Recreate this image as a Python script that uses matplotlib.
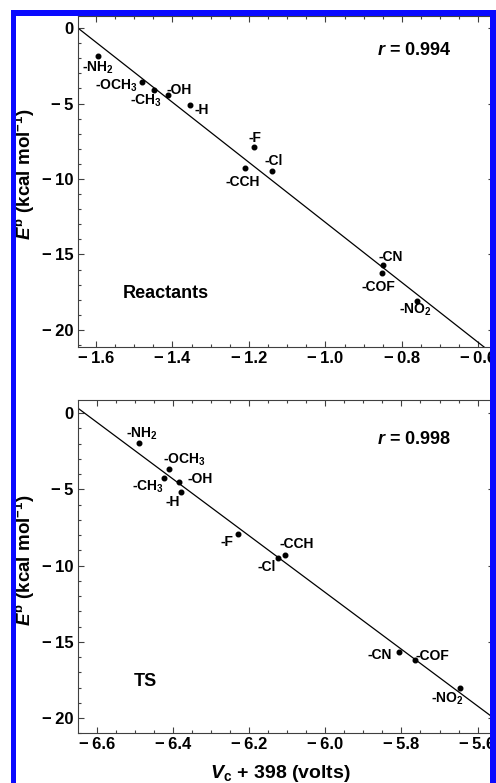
"""Hammett-style correlation: E^b vs core potential V_c, reactants (top) and TS (bottom)."""

import matplotlib
matplotlib.use("Agg")
import matplotlib.pyplot as plt
from matplotlib.patches import Rectangle
from matplotlib.ticker import MultipleLocator, FuncFormatter
import numpy as np

plt.rcParams["font.family"] = ["Liberation Sans", "DejaVu Sans"]
plt.rcParams["font.weight"] = "bold"
plt.rcParams["mathtext.fontset"] = "custom"
plt.rcParams["mathtext.rm"] = "Liberation Sans:bold"
plt.rcParams["mathtext.bf"] = "Liberation Sans:bold"
plt.rcParams["mathtext.it"] = "Liberation Sans:italic:bold"

# --- data ---
substituents = ["-NH$_2$", "-OCH$_3$", "-CH$_3$", "-OH", "-H", "-F",
                "-Cl", "-CCH", "-CN", "-COF", "-NO$_2$"]

react_vc = [-1.594, -1.4805, -1.4475, -1.4126, -1.354, -1.186,
            -1.1407, -1.2105, -0.8505, -0.853, -0.760]
react_eb = [-1.83, -3.6, -4.1, -4.44, -5.1, -7.86,
            -9.45, -9.25, -15.7, -16.25, -18.08]

ts_vc = [-6.489, -6.411, -6.423, -6.383, -6.379, -6.230,
         -6.123, -6.106, -5.807, -5.765, -5.646]
ts_eb = [-1.93, -3.67, -4.22, -4.53, -5.18, -7.92,
         -9.47, -9.30, -15.68, -16.19, -18.04]

# linear fits (slope, intercept) and correlation coefficients
react_fit = (-19.9, -32.78)
ts_fit = (-18.63, -123.54)
react_r = "0.994"
ts_r = "0.998"

react_xticks = [-1.6, -1.4, -1.2, -1.0, -0.8, -0.6]
ts_xticks = [-6.6, -6.4, -6.2, -6.0, -5.8, -5.6]
yticks = [-20, -15, -10, -5, 0]

# label offsets in pixels (dx, dy), label centre relative to point
react_offsets = [(0, -12), (-25, -3), (-8, -11), (11, 5), (12, -5), (1, 9),
                 (2, 10), (-2.5, -14), (8, 8), (-3, -14), (-2, -9)]
ts_offsets = [(3, 9), (16, 9), (-16, -9), (21, 3), (-8, -10), (-11, -8.5),
              (-12, -9), (12, 11), (-19, -2.7), (18, 4), (-13, -10.5)]

W, H = 496, 783
MINUS = "\u2212\u2009"


def fmt_x(v, pos):
    return (MINUS + f"{abs(v):.1f}") if v < 0 else f"{v:.1f}"


def fmt_y(v, pos):
    if abs(v) < 1e-9:
        return "0"
    return (MINUS + f"{abs(v):.0f}") if v < 0 else f"{v:.0f}"


def setup_axes(ax, xlim, ylim, xticks, xminor):
    ax.set_xlim(*xlim)
    ax.set_ylim(*ylim)
    ax.set_xticks(xticks)
    ax.set_yticks(yticks)
    ax.xaxis.set_minor_locator(MultipleLocator(xminor))
    ax.yaxis.set_minor_locator(MultipleLocator(1))
    ax.xaxis.set_major_formatter(FuncFormatter(fmt_x))
    ax.yaxis.set_major_formatter(FuncFormatter(fmt_y))
    ax.tick_params(which="both", direction="in", top=True, right=True,
                   color="0.25", width=0.8)
    ax.tick_params(which="major", length=4, labelsize=12, pad=3)
    ax.tick_params(which="minor", length=2.2)
    for sp in ax.spines.values():
        sp.set_color("0.25")
        sp.set_linewidth(0.8)


def draw_panel(ax, xs, ys, fit, offsets, r_text, r_pos, name, name_pos):
    x0, x1 = ax.get_xlim()
    lx = np.array([x0, x1])
    ax.plot(lx, fit[0] * lx + fit[1], color="black", lw=0.9)
    ax.plot(xs, ys, "o", color="black", ms=3.3, zorder=3)
    for lab, x, y, (dx, dy) in zip(substituents, xs, ys, offsets):
        ax.annotate(lab, (x, y), xytext=(dx, dy), textcoords="offset pixels",
                    ha="center", va="center", fontsize=10, fontweight="bold")
    ax.text(r_pos[0], r_pos[1], "$r$ = " + r_text, ha="center", va="center",
            fontsize=13, fontweight="bold")
    ax.text(name_pos[0], name_pos[1], name, ha="center", va="center",
            fontsize=13, fontweight="bold")


fig = plt.figure(figsize=(W / 100, H / 100), dpi=100)

# axes placed in pixel geometry of the original
left, right = 78, 494
ax1 = fig.add_axes([left / W, 1 - 347 / H, (right - left) / W, (347 - 15.5) / H])
ax2 = fig.add_axes([left / W, 1 - 733.3 / H, (right - left) / W, (733.3 - 400) / H])

setup_axes(ax1, (-1.647, -0.5594), (-21.13, 0.83), react_xticks, 0.05)
setup_axes(ax2, (-6.649, -5.557), (-21.0, 0.87), ts_xticks, 0.05)

draw_panel(ax1, react_vc, react_eb, react_fit, react_offsets, react_r,
           (-0.767, -1.46), "Reactants", (-1.417, -17.6))
draw_panel(ax2, ts_vc, ts_eb, ts_fit, ts_offsets, ts_r,
           (-5.766, -1.75), "TS", (-6.471, -17.6))

ylab = "$E^{\\rm b}$ (kcal mol$^{-1}$)"
fig.text(24.5 / W, 1 - 174.5 / H, ylab, rotation=90, ha="center", va="center",
         fontsize=13.5, fontweight="bold")
fig.text(24.5 / W, 1 - 560.5 / H, ylab, rotation=90, ha="center", va="center",
         fontsize=13.5, fontweight="bold")
fig.text(280 / W, 1 - 774 / H, "$V_{\\rm c}$ + 398 (volts)", ha="center",
         va="center", fontsize=14, fontweight="bold")

# blue highlight frame around the figure (cropped at right/bottom)
blue = "#0a0aff"
for (x, y, w, h) in [(11, 10, 4.5, H), (11, 10, W, 5.5), (490, 10, 6, H)]:
    fig.add_artist(Rectangle((x / W, 1 - (y + h) / H), w / W, h / H,
                             transform=fig.transFigure, color=blue,
                             lw=0, zorder=10))

fig.savefig("out.png", dpi=100)
